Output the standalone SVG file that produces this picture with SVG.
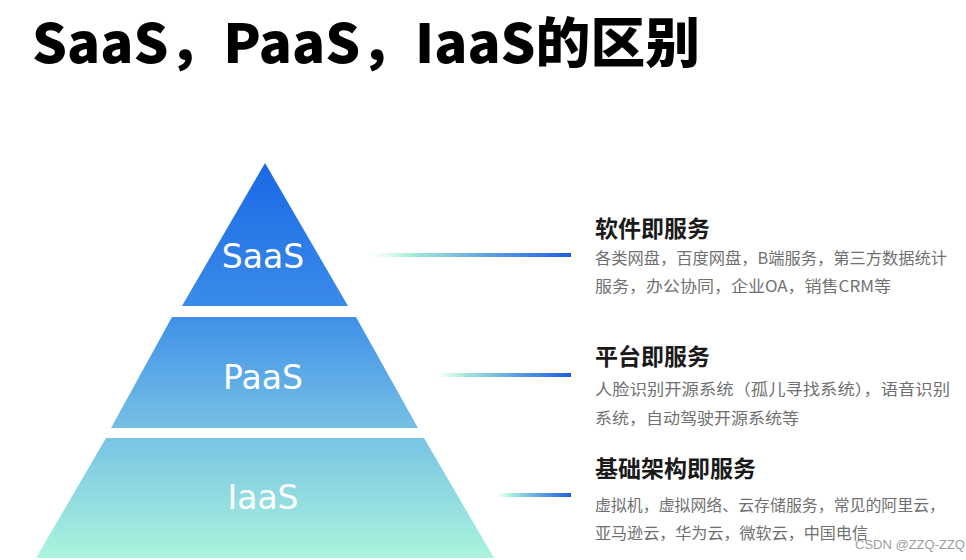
<svg xmlns="http://www.w3.org/2000/svg" width="966" height="560" viewBox="0 0 966 560">
<defs>
<linearGradient id="pyr" gradientUnits="userSpaceOnUse" x1="0" y1="163" x2="0" y2="558">
<stop offset="0" stop-color="#1a68e6"/>
<stop offset="0.36" stop-color="#3b8be9"/>
<stop offset="0.62" stop-color="#6cb8e5"/>
<stop offset="1" stop-color="#aaf4dd"/>
</linearGradient>
<linearGradient id="conn" x1="0" y1="0" x2="1" y2="0">
<stop offset="0" stop-color="#b6f2e2" stop-opacity="0"/>
<stop offset="0.2" stop-color="#a6ecd9"/>
<stop offset="0.6" stop-color="#5a9ee3"/>
<stop offset="1" stop-color="#1f5fde"/>
</linearGradient>
</defs>
<style>
.title{font-family:"Noto Sans CJK SC","Liberation Sans",sans-serif;font-weight:900;font-size:54px;fill:#000}
.lvl{font-family:"DejaVu Sans","Noto Sans",sans-serif;font-size:33px;fill:#fff;text-anchor:middle}
.head{font-family:"Noto Sans CJK SC",sans-serif;font-weight:700;font-size:23px;fill:#1a1a1a}
.desc{font-family:"Noto Sans CJK SC",sans-serif;font-size:15.5px;fill:#707070}
.wm{font-family:"Liberation Sans",sans-serif;font-size:13px;fill:#a0a0a0}
</style>
<rect width="966" height="560" fill="#fff"/>
<text class="title" x="32" y="63" textLength="668" lengthAdjust="spacingAndGlyphs">SaaS，PaaS，IaaS的区别</text>

<g id="saas">
<polygon points="265,163 348,306 182,306" fill="url(#pyr)"/>
<text class="lvl" x="263" y="268">SaaS</text>
</g>
<g id="paas">
<polygon points="172,317 356,317 418,428 111,428" fill="url(#pyr)"/>
<text class="lvl" x="263" y="389">PaaS</text>
</g>
<g id="iaas">
<polygon points="106,438 424,438 494,558 36,558" fill="url(#pyr)"/>
<text class="lvl" x="263" y="509">IaaS</text>
</g>

<g id="connectors">
<rect x="372" y="253" width="199" height="4" fill="url(#conn)"/>
<rect x="436" y="373" width="135" height="4" fill="url(#conn)"/>
<rect x="497" y="493" width="74" height="4" fill="url(#conn)"/>
</g>

<g id="saas-desc">
<text class="head" x="595" y="237">软件即服务</text>
<text class="desc" x="595" y="264" textLength="352" lengthAdjust="spacingAndGlyphs">各类网盘，百度网盘，B端服务，第三方数据统计</text>
<text class="desc" x="595" y="292" textLength="296" lengthAdjust="spacingAndGlyphs">服务，办公协同，企业OA，销售CRM等</text>
</g>
<g id="paas-desc">
<text class="head" x="595" y="365">平台即服务</text>
<text class="desc" x="595" y="395" textLength="355" lengthAdjust="spacingAndGlyphs">人脸识别开源系统（孤儿寻找系统），语音识别</text>
<text class="desc" x="595" y="424" textLength="204" lengthAdjust="spacingAndGlyphs">系统，自动驾驶开源系统等</text>
</g>
<g id="iaas-desc">
<text class="head" x="595" y="477">基础架构即服务</text>
<text class="desc" x="595" y="511" textLength="350" lengthAdjust="spacingAndGlyphs">虚拟机，虚拟网络、云存储服务，常见的阿里云，</text>
<text class="desc" x="595" y="539" textLength="273" lengthAdjust="spacingAndGlyphs">亚马逊云，华为云，微软云，中国电信</text>
</g>
<text class="wm" x="855" y="549">CSDN @ZZQ-ZZQ</text>
</svg>
